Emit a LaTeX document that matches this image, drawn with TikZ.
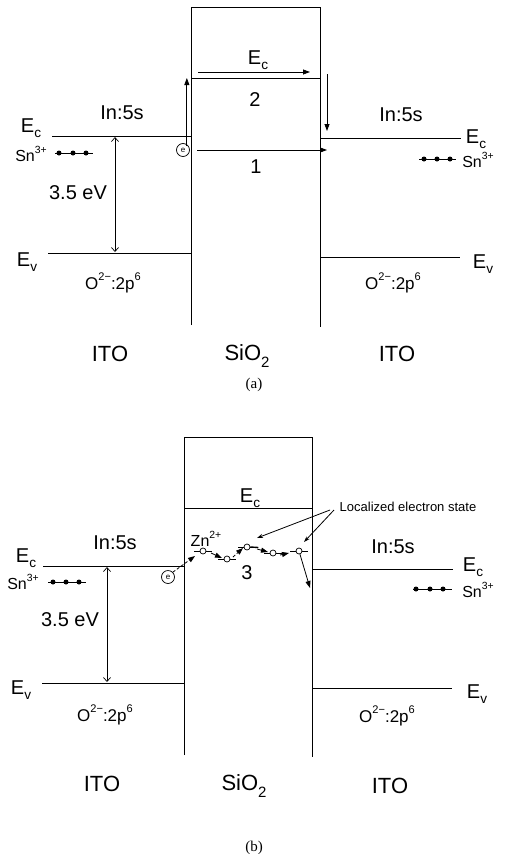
\documentclass[tikz,border=0pt]{standalone}
\usepackage{fontspec}
\setmainfont{Liberation Sans}
\newfontfamily\capfont{Liberation Serif}
\usetikzlibrary{arrows.meta, calc}

\newcommand{\fs}[1]{\fontsize{#1}{#1}\selectfont}
\newcommand{\dn}[1]{\raisebox{-0.28em}{\scalebox{0.68}{#1}}}
\newcommand{\up}[1]{\raisebox{0.5em}{\scalebox{0.65}{#1}}}

\begin{document}
\begin{tikzpicture}[x=1pt, y=-1pt,
    band/.style={line width=0.8pt},
    lbl/.style={font=\fs{20}, inner sep=0pt},
    big/.style={font=\fs{22}, inner sep=0pt},
    small/.style={font=\fs{17}, inner sep=0pt},
    ion/.style={font=\fs{16}, inner sep=0pt},
    note/.style={font=\fs{13}, inner sep=0pt},
    capt/.style={font=\capfont\fs{15}, inner sep=0pt},
    arr/.style={-{Triangle[length=7pt,width=5pt]}, line width=0.8pt},
    darr/.style={arr, dash pattern=on 3pt off 2pt},
    gap/.style={{Straight Barb[length=4pt,width=7pt]}-{Straight Barb[length=4pt,width=7pt]}, line width=0.7pt},
    elec/.style={circle, draw, line width=0.7pt, minimum size=13pt, inner sep=0pt, font=\fs{8}},
    donor/.style={circle, fill, minimum size=5pt, inner sep=0pt},
    trap/.style={circle, draw, fill=white, minimum size=6pt, inner sep=0pt, line width=0.7pt}]
  \useasboundingbox (0,0) rectangle (508,854);

  % ---- (a) ----
  \draw[band] (191,325) -- (191,7) -- (320,7) -- (320,327);
  \draw[band] (191,78) -- (320,78);
  \draw[band] (52,136) -- (191,136);
  \draw[band] (48,253) -- (191,253);
  \draw[band] (320,138) -- (461,138);
  \draw[band] (320,257) -- (460,257);
  \draw[line width=0.6pt] (55,153) -- (93,153);
  \draw[line width=0.6pt] (419,159) -- (456,159);
  \foreach \x in {59,73,86} \node[donor] (aDL\x) at (\x,153) {};
  \foreach \x in {424,437,450} \node[donor] (aDR\x) at (\x,159) {};

  \node[lbl] (aEcL) at (31,128) {E\dn{c}};
  \node[lbl] (aEvL) at (27,262) {E\dn{v}};
  \node[lbl] (aEcR) at (476,139) {E\dn{c}};
  \node[lbl] (aEvR) at (483,264) {E\dn{v}};
  \node[lbl] (aEcS) at (258,60) {E\dn{c}};
  \node[lbl] (aInL) at (122,113) {In:5s};
  \node[lbl] (aInR) at (401,115) {In:5s};
  \node[ion] (aSnL) at (31,154) {Sn\up{3+}};
  \node[ion] (aSnR) at (478,160) {Sn\up{3+}};
  \node[small] (aOL) at (113,283) {O\up{2−}:2p\up{6}};
  \node[small] (aOR) at (393,283) {O\up{2−}:2p\up{6}};
  \node[lbl] (aGap) at (78,193) {3.5 eV};
  \node[lbl] (aTwo) at (255,100) {2};
  \node[lbl] (aOne) at (256,167) {1};
  \node[big] (aITOL) at (110,354) {ITO};
  \node[big] (aSiO) at (247,356) {SiO\dn{2}};
  \node[big] (aITOR) at (397,354) {ITO};
  \node[capt] (aCap) at (254,385) {(a)};

  \node[elec] (ae) at (183,150) {e};
  \coordinate (aUp) at (187,78);
  \coordinate (aTopS) at (198,72);
  \coordinate (aTopE) at (310,72);
  \coordinate (aDnS) at (327,74);
  \coordinate (aDnE) at (327,131);
  \coordinate (aDirS) at (197,150);
  \coordinate (aDirE) at (327,150);
  \coordinate (aGapT) at (115,137);
  \coordinate (aGapB) at (115,252);
  \draw[arr] (ae.north east) ++(-1,1) coordinate (aUpS) -- (aUpS |- aUp);
  \draw[arr] (aTopS) -- (aTopE);
  \draw[arr] (aDnS) -- (aDnE);
  \draw[arr] (aDirS) -- (aDirE);
  \draw[gap] (aGapT) -- (aGapB);

  % ---- (b) ----
  \draw[band] (184,755) -- (184,437) -- (312,437) -- (312,757);
  \draw[band] (184,508) -- (312,508);
  \draw[band] (43,566) -- (184,566);
  \draw[band] (42,683) -- (184,683);
  \draw[band] (312,569) -- (453,569);
  \draw[band] (312,688) -- (452,688);
  \draw[line width=0.6pt] (48,582) -- (86,582);
  \draw[line width=0.6pt] (413,589) -- (452,589);
  \foreach \x in {53,66,79} \node[donor] (bDL\x) at (\x,582) {};
  \foreach \x in {416,430,443} \node[donor] (bDR\x) at (\x,589) {};

  \node[lbl] (bEcL) at (26,558) {E\dn{c}};
  \node[lbl] (bEvL) at (21,690) {E\dn{v}};
  \node[lbl] (bEcR) at (473,567) {E\dn{c}};
  \node[lbl] (bEvR) at (477,694) {E\dn{v}};
  \node[lbl] (bEcS) at (250,498) {E\dn{c}};
  \node[lbl] (bInL) at (115,543) {In:5s};
  \node[lbl] (bInR) at (393,547) {In:5s};
  \node[ion] (bSnL) at (23,582) {Sn\up{3+}};
  \node[ion] (bSnR) at (478,590) {Sn\up{3+}};
  \node[small] (bOL) at (105,715) {O\up{2−}:2p\up{6}};
  \node[small] (bOR) at (387,716) {O\up{2−}:2p\up{6}};
  \node[lbl] (bGap) at (70,620) {3.5 eV};
  \node[lbl] (bThree) at (247,573) {3};
  \node[ion] (bZn) at (206,539) {Zn\up{2+}};
  \node[note] (bLoc) at (408,507) {Localized electron state};
  \node[big] (bITOL) at (102,784) {ITO};
  \node[big] (bSiO) at (244,786) {SiO\dn{2}};
  \node[big] (bITOR) at (390,786) {ITO};
  \node[capt] (bCap) at (254,848) {(b)};

  \node[elec] (be) at (168,577) {e};
  \foreach \n/\x/\y in {1/203/551, 2/227/559, 3/247/547, 4/273/553, 5/299/551} {
    \draw[line width=0.6pt] (\x-9,\y) -- (\x+9,\y);
    \node[trap] (s\n) at (\x,\y) {};
  }
  \draw[line width=1.4pt] (s3.east) -- ++(8,0.5);
  \coordinate (bGapT) at (107,567);
  \coordinate (bGapB) at (107,682);
  \coordinate (bIn) at (195,556);
  \coordinate (bOut) at (310,588);
  \coordinate (bLocA) at (330,510);
  \coordinate (bLocB) at (334,510);
  \coordinate (bTgtA) at (257,538);
  \coordinate (bTgtB) at (304,542);
  \draw[gap] (bGapT) -- (bGapB);
  \draw[darr] (be.north east) -- (bIn);
  \draw[arr] (s1) ++(8,2) -- ($(s2)+(-5,-1)$);
  \draw[darr] (s2) ++(6,-2) -- ($(s3)+(-4,1)$);
  \draw[arr] (s3) ++(10,2) -- ($(s4)+(-5,-1)$);
  \draw[arr] (s4) ++(7,2) -- ($(s5)+(-10,2)$);
  \draw[arr] (s5) -- (bOut);
  \draw[arr, -{Stealth[length=6pt,width=4pt]}] (bLocA) -- (bTgtA);
  \draw[arr, -{Stealth[length=6pt,width=4pt]}] (bLocB) -- (bTgtB);
\end{tikzpicture}
\end{document}
